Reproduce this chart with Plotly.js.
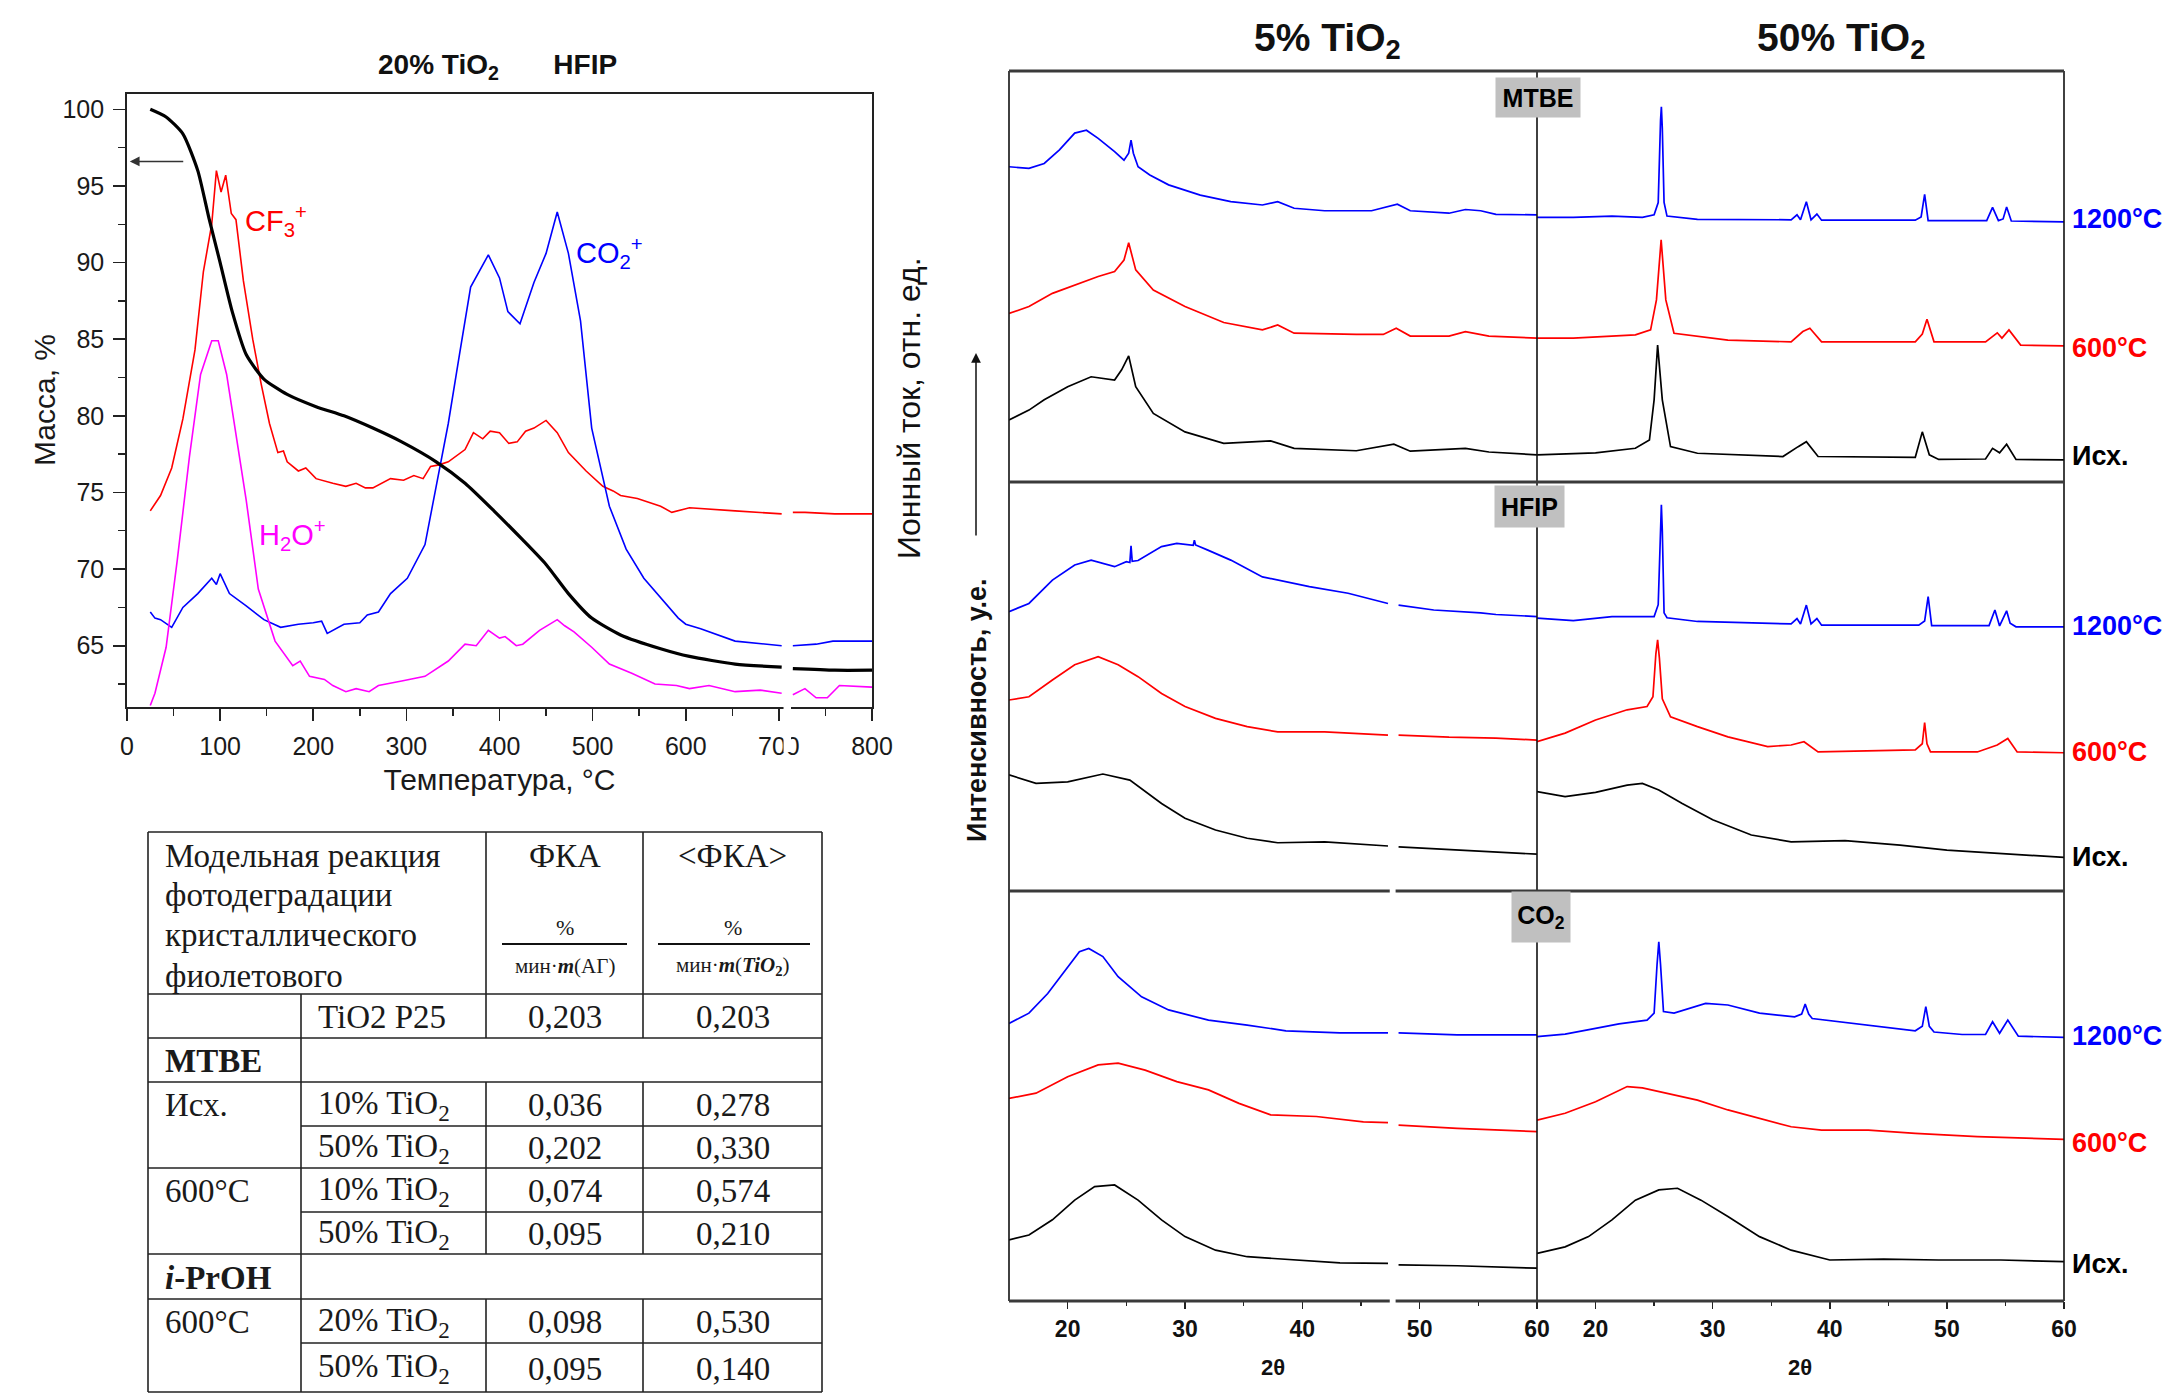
<!DOCTYPE html>
<html><head><meta charset="utf-8">
<script src="https://cdn.plot.ly/plotly-3.0.1.min.js"></script>
<style>html,body{margin:0;padding:0;background:#fff}#chart{width:2170px;height:1400px}</style>
</head><body><div id="chart"></div>
<script>
// ---------------- TGA / MS data (20% TiO2, HFIP) ----------------
const massT = [25,42,60,76,88,100,113,128,147,172,203,233,264,295,332,363,394,425,450,474,499,530,573,604,653,703,null,715,760,800];
const massY = [100,99.5,98.4,96,92.9,90,86.8,84,82.4,81.4,80.6,80,79.2,78.3,77,75.6,73.8,71.9,70.3,68.4,66.8,65.7,64.8,64.3,63.8,63.6,null,63.5,63.4,63.4];

const cf3T = [25,36,48,60,73,82,91,96,101,106,112,117,125,135,144,153,162,168,172,184,192,203,221,235,246,256,264,283,297,308,318,326,335,345,363,372,382,390,400,410,419,428,437,450,462,474,493,511,522,530,548,573,585,604,653,703,null,715,728,760,800];
const cf3Y = [73.8,74.8,76.6,79.8,84.3,89.4,92.5,96,94.6,95.7,93.2,92.8,88.8,85,82.1,79.5,77.6,77.7,77,76.4,76.6,75.9,75.6,75.4,75.6,75.3,75.3,75.9,75.8,76.1,75.9,76.7,76.8,77,77.8,78.9,78.5,79,78.9,78.2,78.3,79,79.2,79.7,78.9,77.6,76.4,75.4,75.1,74.8,74.6,74.1,73.7,74,73.8,73.6,null,73.7,73.7,73.6,73.6];

const co2T = [25,30,36,48,60,76,91,96,100,110,128,147,165,184,200,209,215,233,250,258,270,283,301,320,332,345,357,369,388,400,409,422,437,450,462,474,487,499,518,536,555,573,592,600,616,653,703,null,715,740,758,800];
const co2Y = [67.2,66.8,66.7,66.2,67.5,68.4,69.4,69,69.7,68.4,67.6,66.7,66.2,66.4,66.5,66.6,65.8,66.4,66.5,67,67.2,68.4,69.4,71.6,75.4,79.5,84,88.4,90.5,89,86.8,86,88.7,90.6,93.3,90.6,86.2,79.2,74.1,71.3,69.4,68.1,66.8,66.4,66.1,65.3,65,null,65,65.1,65.3,65.3];

const h2oT = [25,30,42,54,67,79,91,98,107,116,128,141,159,178,186,196,212,221,235,246,260,270,285,295,320,345,363,375,388,400,406,418,425,443,462,470,480,499,518,530,542,567,590,604,625,653,680,703,null,715,728,740,752,765,800];
const h2oY = [61.1,61.9,64.9,70.6,77.3,82.7,84.9,84.9,82.7,79.2,74.5,68.7,65.3,63.7,64,63,62.8,62.4,62,62.2,62,62.4,62.6,62.7,63,64,65.1,65,66,65.5,65.6,65,65.1,66,66.7,66.3,65.9,64.9,63.8,63.5,63.2,62.5,62.4,62.2,62.4,62,62.1,61.9,null,61.8,62.2,61.6,61.6,62.4,62.3];

const tgaTitle = "20% TiO<sub>2</sub>\u00a0\u00a0\u00a0\u00a0\u00a0\u00a0 HFIP";
const tgaXTitle = "Температура, °C";
const tgaYTitle = "Масса, %";
const tgaRightTitle = "Ионный ток, отн. ед.";
const msLabels = ["CF<sub>3</sub><sup>+</sup>", "CO<sub>2</sub><sup>+</sup>", "H<sub>2</sub>O<sup>+</sup>"];
const msLabelX = [125, 518, 178];
const msLabelY = [92.7, 90.6, 72.2];

// ---------------- Table ----------------
const tblHeadLines = ["Модельная реакция", "фотодеградации", "кристаллического", "фиолетового"];
const tblColHeads = ["ФКА", "&lt;ФКА&gt;"];
const tblUnitTop = ["%", "%"];
const tblUnitBottom = ["мин·<b><i>m</i></b>(АГ)", "мин·<b><i>m</i></b>(<b><i>TiO</i></b><sub><b>2</b></sub>)"];
const tblGroup  = ["", "MTBE", "Исх.", "", "600°C", "", "<i>i</i>-PrOH", "600°C", ""];
const tblIsGroupRow = [false, true, false, false, false, false, true, false, false];
const tblSample = ["TiO2 P25", "", "10% TiO<sub>2</sub>", "50% TiO<sub>2</sub>", "10% TiO<sub>2</sub>", "50% TiO<sub>2</sub>", "", "20% TiO<sub>2</sub>", "50% TiO<sub>2</sub>"];
const tblFka    = ["0,203", "", "0,036", "0,202", "0,074", "0,095", "", "0,098", "0,095"];
const tblFkaAvg = ["0,203", "", "0,278", "0,330", "0,574", "0,210", "", "0,530", "0,140"];

// ---------------- XRD data (2θ, intensity in a.u.) ----------------
const xrdColTitles = ["5% TiO<sub>2</sub>", "50% TiO<sub>2</sub>"];
const xrdRowNames = ["MTBE", "HFIP", "CO<sub>2</sub>"];
const xrdCurveNames = ["1200°C", "600°C", "Исх."];
const xrdTickVals = [20, 30, 40, 50, 60];
const xrdMinorVals = [25, 35, 45, 55];
const xrdXTitle = "2θ";

// MTBE
const m5_1200_t = [15,16.7,18,19.3,20.6,21.6,22.6,24,24.8,25.2,25.4,25.6,26,27,28.6,31.3,33.9,36.6,37.9,39.3,41.9,45.9,48.1,49.2,52.5,53.9,55.2,56.5,60];
const m5_1200_I = [76.7,76.3,77.5,80.8,84.9,85.6,83.6,80.4,78.3,80,83.2,80,76.7,74.7,72.3,69.8,68.2,67.4,68.2,66.6,66,66,67.6,66,65.4,66.3,66,65.1,65];
const m50_1200_t = [15,18.1,21.4,24,25,25.35,25.55,25.62,25.7,25.85,26.1,28.7,36.7,37.2,37.5,38,38.4,38.9,39.3,47.3,47.8,48.1,48.4,53.4,53.9,54.4,54.8,55.1,55.5,60];
const m50_1200_I = [64.4,64.4,64.7,64.4,65,68,88,91.3,86,68,64.7,63.9,63.8,65,63.8,68.2,63.8,65.2,63.7,63.7,64.5,70,63.6,63.6,66.8,63.6,64,66.9,63.5,63.3];
const m5_600_t = [15,16.7,18.7,20.6,22.6,24,24.8,25.2,25.8,27.3,30,33.3,36.6,37.9,39.3,44.6,46.9,48,49.2,52.5,53.9,55.9,60];
const m5_600_I = [41,42.7,45.9,47.9,50,51.2,54,58.2,51.6,46.7,42.7,38.8,37,38.2,36.2,35.9,35.9,37.4,35.5,35.5,36.6,35.5,35];
const m50_600_t = [15,18.1,23.4,24.7,25.2,25.6,26,26.7,31.3,36.7,37.7,38.3,39.3,47.3,47.9,48.3,48.9,53.3,54.3,54.7,55.3,56.3,60];
const m50_600_I = [35,35,35.8,37,44.3,58.9,44.3,36.2,34.5,34.1,36.6,37.4,34.1,34.1,36,39.6,34.1,34.1,36.3,35,37,33.3,33.1];
const m5_0_t = [15,16.7,18,20,22,24,24.6,25.2,25.8,27.3,30,33.3,37.3,39.3,44.6,47.8,49.2,53.9,55.9,60];
const m5_0_I = [15.1,17.5,20,23.2,25.6,24.8,27.3,30.7,23.2,16.7,12.2,9.4,10,8.2,7.6,9.2,7.5,8.2,7.3,6.6];
const m50_0_t = [15,20,23.4,24.6,25,25.3,25.7,26.4,28.7,36,37.3,38,39,47.3,47.9,48.5,49.3,53.3,53.9,54.5,55.1,55.9,60];
const m50_0_I = [6.6,7.1,8.2,10.2,20,33.3,20,8.6,7,6.2,8.6,9.8,6.2,6,12.2,6.6,5.5,5.6,8.2,7.1,9.2,5.5,5.4];

// HFIP
const h5_1200_t = [15,16.7,18.7,20.6,22,24,25,25.3,25.4,25.5,26,28,29.3,30.7,30.8,30.9,31.9,33.9,36.6,40.6,43.9,47.3,null,48.2,51.2,55.2,56.5,60];
const h5_1200_I = [68.3,70.3,76,79.7,80.9,79.3,80.5,80.3,84.4,80.6,80.8,84.2,85,84.5,85.8,84.6,83.4,80.9,76.8,74.4,72.8,70.3,null,69.9,68.7,68,67.6,67.1];
const h50_1200_t = [15,18.1,21.4,23.4,25,25.35,25.55,25.62,25.7,25.85,26.1,28.7,36.7,37.2,37.5,38,38.4,38.9,39.3,47.6,48.1,48.4,48.7,53.6,54.1,54.5,55.1,55.4,55.9,60];
const h50_1200_I = [66.7,66.1,67.1,67.2,67.1,70,90,94.4,88,68,66.8,65.9,65.3,66.6,65.3,69.9,65.3,66.6,65,65,66,72,64.9,64.9,68.7,64.8,68.5,65.5,64.6,64.6];
const h5_600_t = [15,16.7,18.7,20.6,22.6,24.3,26,28,30,32.6,35.3,37.9,41.9,47.3,null,48.2,52.5,56.5,60];
const h5_600_I = [46.7,47.5,51.6,55.3,57.3,55.3,52.4,48.3,45.1,42.2,40.2,38.9,38.9,38.1,null,38.1,37.6,37.4,36.9];
const h50_600_t = [15,17.4,20,22.7,24.4,24.9,25.15,25.3,25.45,25.7,26.4,28.7,31.3,34.7,36.7,37.8,39,44.6,47.3,47.9,48.1,48.3,48.6,52.6,54.3,55.2,56,60];
const h50_600_I = [36.5,38.6,41.8,44.3,45.1,47.5,58,61.4,57,47,42.6,40.2,37.7,35.3,35.7,36.5,34,34.4,34.5,36,41.2,36,34,34,35.7,37.3,34,33.8];
const h5_0_t = [15,17.3,20,23,25.3,28,30,32.6,35.3,37.9,41.9,47.3,null,48.2,53.9,60];
const h5_0_I = [28.4,26.3,26.7,28.6,27.1,21.4,17.8,14.9,12.9,11.8,12,11,null,10.8,9.9,9];
const h50_0_t = [15,17.4,20,22.7,24,25.4,27.4,30,33.3,36.7,41.3,46,50,54.6,60];
const h50_0_I = [24.3,23.1,24.1,25.9,26.3,24.7,21.4,17.4,13.7,12,12.3,11.2,10,9.2,8.2];

// CO2
const c5_1200_t = [15,16.7,18.3,20,21,21.8,23,24.3,26.3,28.6,32,35.3,38.6,43.2,47.3,null,48.2,53.2,60];
const c5_1200_I = [67.7,70.2,75,81.5,85.2,86,84,79.1,74.2,71,68.5,67.3,65.9,65.4,65.4,null,65.4,64.9,64.9];
const c50_1200_t = [15,17.4,20,22,24.4,25,25.25,25.4,25.55,25.8,26.7,29.4,31.3,34,37,37.6,37.9,38.2,38.5,41.3,44.6,47.3,47.9,48.2,48.5,48.9,51.3,53.3,53.9,54.5,55.2,56.1,60];
const c50_1200_I = [64.5,65.1,66.5,67.6,68.5,70.2,82,87.6,82,70.6,70.2,72.6,72.2,70.2,69.3,70,72.4,70,68.9,67.9,66.9,65.9,67,71.8,67,65.6,65,65,68.1,65.3,68.5,64.6,64.3];
const c5_600_t = [15,17.3,20,22.6,24.3,26.6,29.3,32,34.6,37.3,41.2,45.2,47.3,null,48.2,53.2,60];
const c5_600_I = [49.4,50.7,54.7,57.6,58,56.3,53.5,51.5,48.2,45.4,45,43.7,43.5,null,42.9,42.1,41.3];
const c50_600_t = [15,17.4,20,22.7,24,26,28.7,31.3,34,36.7,39.3,43.3,47.3,52.6,60];
const c50_600_I = [44.1,45.8,48.6,52.3,52,50.7,49,46.6,44.6,42.5,41.7,41.7,40.9,40.1,39.4];
const c5_0_t = [15,16.7,18.7,20.6,22.3,24,26,28,30,32.6,35.3,39.3,43.2,47.3,null,48.2,53.2,60];
const c5_0_I = [14.9,16.1,19.8,24.6,27.9,28.3,24.6,19.8,15.7,12.4,10.8,10,9.3,9.2,null,8.8,8.6,8];
const c50_0_t = [15,17.4,19.4,21.4,23.4,25.4,27,29,31.3,34,36.7,40,44.6,49.3,54.6,60];
const c50_0_I = [11.6,13.2,15.7,19.8,24.6,27.1,27.5,24.6,20.6,15.7,12.4,10,10.2,10,10,9.6];

// ================= layout helpers =================
const W = 2170, H = 1400;
const px = x => x / W;
const py = y => 1 - y / H;
const SANS = 'Liberation Sans, Arial, sans-serif';
const NARROW = 'Liberation Sans Narrow, Arial Narrow, Liberation Sans, sans-serif';
const SERIF = 'Liberation Serif, Times New Roman, serif';
const BLUE = '#0000ff', RED = '#ff0000', MAG = '#ff00ff', BLK = '#000000';

const traces = [];
traces.push({x: cf3T, y: cf3Y, xaxis: 'x', yaxis: 'y', mode: 'lines', line: {color: RED, width: 1.6}, connectgaps: false, hoverinfo: 'skip'});
traces.push({x: co2T, y: co2Y, xaxis: 'x', yaxis: 'y', mode: 'lines', line: {color: BLUE, width: 1.6}, connectgaps: false, hoverinfo: 'skip'});
traces.push({x: h2oT, y: h2oY, xaxis: 'x', yaxis: 'y', mode: 'lines', line: {color: MAG, width: 1.6}, connectgaps: false, hoverinfo: 'skip'});
traces.push({x: massT, y: massY, xaxis: 'x', yaxis: 'y', mode: 'lines', line: {color: BLK, width: 3.2, shape: 'spline', smoothing: 0.6}, connectgaps: false, hoverinfo: 'skip'});

const curveColors = [BLUE, RED, BLK];
const xrdSets = [
  [0,0,0,m5_1200_t,m5_1200_I],[0,1,0,m50_1200_t,m50_1200_I],
  [0,0,1,m5_600_t,m5_600_I],[0,1,1,m50_600_t,m50_600_I],
  [0,0,2,m5_0_t,m5_0_I],[0,1,2,m50_0_t,m50_0_I],
  [1,0,0,h5_1200_t,h5_1200_I],[1,1,0,h50_1200_t,h50_1200_I],
  [1,0,1,h5_600_t,h5_600_I],[1,1,1,h50_600_t,h50_600_I],
  [1,0,2,h5_0_t,h5_0_I],[1,1,2,h50_0_t,h50_0_I],
  [2,0,0,c5_1200_t,c5_1200_I],[2,1,0,c50_1200_t,c50_1200_I],
  [2,0,1,c5_600_t,c5_600_I],[2,1,1,c50_600_t,c50_600_I],
  [2,0,2,c5_0_t,c5_0_I],[2,1,2,c50_0_t,c50_0_I]
];
const colAxis = ['x2', 'x3'];
const rowAxis = ['y2', 'y3', 'y4'];
xrdSets.forEach(s => {
  traces.push({x: s[3], y: s[4], xaxis: colAxis[s[1]], yaxis: rowAxis[s[0]], mode: 'lines',
    line: {color: curveColors[s[2]], width: 1.7}, connectgaps: false, hoverinfo: 'skip'});
});

// ================= geometry =================
const TGA = {l: 127, r: 872, t: 94, b: 707};
const XRD = {l: 1009, m: 1537, r: 2064, rows: [71, 482, 891, 1301]};
const BREAK = [47.45, 47.95];

const shapes = [];
const annotations = [];
const ann = o => annotations.push(Object.assign({xanchor: 'center', yanchor: 'middle', showarrow: false, xref: 'paper', yref: 'paper'}, o));

shapes.push({type: 'rect', xref: 'x', yref: 'paper', x0: 705, x1: 713, y0: py(752), y1: py(702),
  fillcolor: '#ffffff', line: {width: 0}, layer: 'above'});

[XRD.l, XRD.m, XRD.r].forEach(x => shapes.push({type: 'line', xref: 'paper', yref: 'paper',
  x0: px(x), x1: px(x), y0: py(XRD.rows[0]), y1: py(XRD.rows[3]), line: {color: '#111', width: 1.6}, layer: 'above'}));
XRD.rows.forEach((y, i) => {
  const st = {color: '#3a3a3a', width: 3};
  if (i >= 2) {
    shapes.push({type: 'line', xref: 'x2', yref: 'paper', x0: 15, x1: BREAK[0], y0: py(y), y1: py(y), line: st, layer: 'above'});
    shapes.push({type: 'line', xref: 'x2', yref: 'paper', x0: BREAK[1], x1: 60, y0: py(y), y1: py(y), line: st, layer: 'above'});
    shapes.push({type: 'line', xref: 'x3', yref: 'paper', x0: 15, x1: 60, y0: py(y), y1: py(y), line: st, layer: 'above'});
  } else {
    shapes.push({type: 'line', xref: 'paper', yref: 'paper', x0: px(XRD.l), x1: px(XRD.r), y0: py(y), y1: py(y), line: st, layer: 'above'});
  }
});

// ================= TGA annotations =================
ann({x: px(497), y: py(66), text: '<b>' + tgaTitle + '</b>', font: {family: SANS, size: 28, color: '#111'}});
msLabels.forEach((t, i) => ann({xref: 'x', yref: 'y', x: msLabelX[i], y: msLabelY[i], text: t,
  xanchor: i === 0 ? 'left' : 'center', font: {family: SANS, size: 29, color: [RED, BLUE, MAG][i]}}));
annotations.push({xref: 'x', yref: 'y', axref: 'x', ayref: 'y', x: 3, y: 96.6, ax: 62, ay: 96.6, text: '', showarrow: true,
  arrowhead: 2, arrowsize: 1.3, arrowwidth: 1.5, arrowcolor: '#333'});
ann({x: px(909), y: py(408), text: tgaRightTitle, textangle: -90, font: {family: SANS, size: 32, color: '#111'}});
ann({x: px(44), y: py(400), text: tgaYTitle, textangle: -90, font: {family: SANS, size: 30, color: '#1a1a1a'}});

// ================= XRD annotations =================
ann({x: px(1327), y: py(40), text: '<b>' + xrdColTitles[0] + '</b>', font: {family: NARROW, size: 39, color: '#111'}});
ann({x: px(1841), y: py(40), text: '<b>' + xrdColTitles[1] + '</b>', font: {family: NARROW, size: 39, color: '#111'}});
const boxCX = [1538, 1530, 1541], boxCY = [97, 506, 917], boxW = [82, 67, 56], boxH = [37, 39, 48];
xrdRowNames.forEach((n, i) => ann({x: px(boxCX[i]), y: py(boxCY[i]),
  text: '<b>' + n + '</b>', bgcolor: '#c0c0c0', width: boxW[i], height: boxH[i],
  font: {family: NARROW, size: 25, color: '#000'}}));
const labelShift = [[3, -2, 4], [1, 1, 0], [1, -4, -2]];
xrdSets.filter(s => s[1] === 1).forEach(s => {
  const I = s[4];
  ann({xref: 'x3', yref: rowAxis[s[0]], x: 60, y: I[I.length - 1], xanchor: 'left', xshift: 6, yshift: labelShift[s[0]][s[2]],
    text: '<b>' + xrdCurveNames[s[2]] + '</b>', font: {family: NARROW, size: 27, color: curveColors[s[2]]}});
});
ann({x: px(977), y: py(711), text: '<b>Интенсивность, у.е.</b>', textangle: -90, font: {family: SANS, size: 27, color: '#111'}});
annotations.push({xref: 'paper', yref: 'paper', x: px(976), y: py(353), ax: 0, ay: 184, text: '', showarrow: true,
  arrowhead: 2, arrowsize: 1.3, arrowwidth: 1.5, arrowcolor: '#111'});
ann({x: px(1273), y: py(1367), text: '<b>' + xrdXTitle + '</b>', font: {family: NARROW, size: 22, color: '#111'}});
ann({x: px(1800), y: py(1367), text: '<b>' + xrdXTitle + '</b>', font: {family: NARROW, size: 22, color: '#111'}});

// ================= Table =================
const T = {l: 148, c1: 301, c2: 486, c3: 643, r: 822, top: 832, head: 994,
  rows: [994, 1038, 1082, 1126, 1168, 1212, 1254, 1299, 1343, 1392]};
const TF = {family: SERIF, size: 33, color: '#1a1a1a'};
const tl = (x0, y0, x1, y1) => shapes.push({type: 'line', xref: 'paper', yref: 'paper', x0: px(x0), y0: py(y0), x1: px(x1), y1: py(y1),
  line: {color: '#222', width: 1.6}});
const last = T.rows[T.rows.length - 1];
tl(T.l, T.top, T.r, T.top);
tl(T.l, T.head, T.r, T.head);
tl(T.l, T.top, T.l, last);
tl(T.r, T.top, T.r, last);
tl(T.c1, T.head, T.c1, last);
tl(T.c2, T.top, T.c2, T.head);
tl(T.c3, T.top, T.c3, T.head);
for (let i = 0; i < tblGroup.length; i++) {
  const y0 = T.rows[i], y1 = T.rows[i + 1];
  const cont = (i + 1 < tblGroup.length) && tblGroup[i + 1] === '' && !tblIsGroupRow[i + 1];
  tl(cont ? T.c1 : T.l, y1, T.r, y1);
  const yc = (y0 + y1) / 2 + 1;
  if (!tblIsGroupRow[i]) {
    tl(T.c2, y0, T.c2, y1);
    tl(T.c3, y0, T.c3, y1);
    ann({x: px(T.c1 + 15), y: py(yc), xanchor: 'left', text: tblSample[i], font: TF});
    ann({x: px((T.c2 + T.c3) / 2), y: py(yc), text: tblFka[i], font: TF});
    ann({x: px((T.c3 + T.r) / 2), y: py(yc), text: tblFkaAvg[i], font: TF});
  }
  if (tblGroup[i] !== '') {
    const txt = tblIsGroupRow[i] ? '<b>' + tblGroup[i] + '</b>' : tblGroup[i];
    ann({x: px(T.l + 15), y: py(yc), xanchor: 'left', text: txt, font: TF});
  }
}
const headY = [856, 895, 935, 976];
tblHeadLines.forEach((t, i) => ann({x: px(T.l + 15), y: py(headY[i]), xanchor: 'left', text: t, font: TF}));
const hc = [(T.c2 + T.c3) / 2, (T.c3 + T.r) / 2];
const fracL = [[502, 627], [658, 810]];
tblColHeads.forEach((t, i) => {
  ann({x: px(hc[i]), y: py(856), text: t, font: TF});
  ann({x: px(hc[i]), y: py(927), text: tblUnitTop[i], font: {family: SERIF, size: 22, color: '#1a1a1a'}});
  ann({x: px(hc[i]), y: py(966), text: tblUnitBottom[i], font: {family: SERIF, size: 21, color: '#1a1a1a'}});
  shapes.push({type: 'line', xref: 'paper', yref: 'paper', x0: px(fracL[i][0]), x1: px(fracL[i][1]), y0: py(944), y1: py(944),
    line: {color: '#111', width: 2.2}});
});

// ================= axes =================
const hidY = d => ({domain: d, range: [0, 100], visible: false, fixedrange: true});
const xrdX = (dom) => ({domain: dom, range: [15, 60], anchor: 'y4', showline: false, showgrid: false, zeroline: false,
  tickmode: 'array', tickvals: xrdTickVals, ticks: 'outside', ticklen: 7, tickwidth: 1.6, tickcolor: '#222',
  tickfont: {family: NARROW, size: 23, weight: 'bold', color: '#111'},
  minor: {tickmode: 'array', tickvals: xrdMinorVals, ticks: 'outside', ticklen: 4, tickwidth: 1.4, tickcolor: '#222', showgrid: false},
  fixedrange: true});

const layout = {
  width: W, height: H, margin: {l: 0, r: 0, t: 0, b: 0}, paper_bgcolor: '#fff', plot_bgcolor: 'rgba(0,0,0,0)',
  showlegend: false,
  xaxis: {domain: [px(TGA.l), px(TGA.r)], range: [0, 800], anchor: 'y', dtick: 100, tick0: 0,
    ticks: 'outside', ticklen: 12, tickwidth: 1.6, tickcolor: '#222', showline: true, mirror: true, linecolor: '#222', linewidth: 1.8,
    showgrid: false, zeroline: false, ticklabelstandoff: 4,
    tickfont: {family: SANS, size: 25, color: '#1a1a1a'},
    minor: {dtick: 50, ticks: 'outside', ticklen: 7, tickwidth: 1.4, tickcolor: '#222', showgrid: false},
    title: {text: tgaXTitle, font: {family: SANS, size: 30, color: '#1a1a1a'}, standoff: 10}, fixedrange: true},
  yaxis: {domain: [py(TGA.b), py(TGA.t)], range: [61, 101], anchor: 'x', tickmode: 'array', tickvals: [65,70,75,80,85,90,95,100],
    ticks: 'outside', ticklen: 12, tickwidth: 1.6, tickcolor: '#222', showline: true, mirror: true, linecolor: '#222', linewidth: 1.8,
    showgrid: false, zeroline: false, ticklabelstandoff: 4,
    tickfont: {family: SANS, size: 25, color: '#1a1a1a'},
    minor: {dtick: 2.5, tick0: 0, ticks: 'outside', ticklen: 7, tickwidth: 1.4, tickcolor: '#222', showgrid: false},
    fixedrange: true},
  xaxis2: xrdX([px(XRD.l), px(XRD.m)]),
  xaxis3: xrdX([px(XRD.m), px(XRD.r)]),
  yaxis2: hidY([py(XRD.rows[1]), py(XRD.rows[0])]),
  yaxis3: hidY([py(XRD.rows[2]), py(XRD.rows[1])]),
  yaxis4: hidY([py(XRD.rows[3]), py(XRD.rows[2])]),
  shapes: shapes,
  annotations: annotations
};

Plotly.newPlot('chart', traces, layout, {displayModeBar: false, staticPlot: true});
</script></body></html>
